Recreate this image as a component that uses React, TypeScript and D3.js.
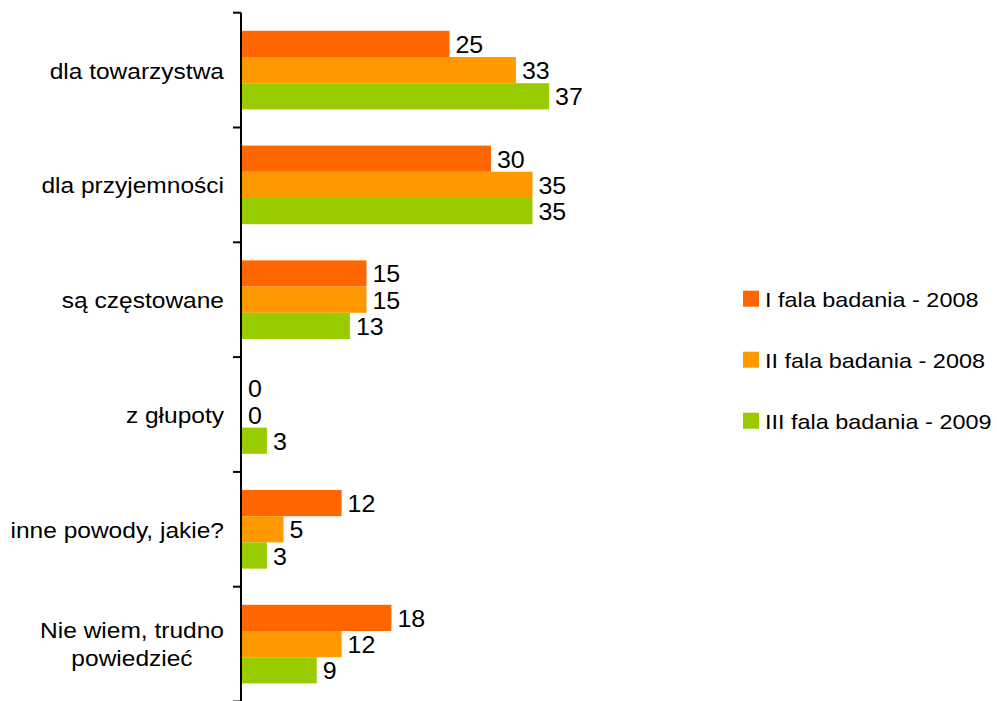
import React from "react";
import * as d3 from "d3";

const categories: string[][] = [
  ["dla towarzystwa"],
  ["dla przyjemności"],
  ["są częstowane"],
  ["z głupoty"],
  ["inne powody, jakie?"],
  ["Nie wiem, trudno", "powiedzieć"],
];
const seriesNames = ["I fala badania - 2008", "II fala badania - 2008", "III fala badania - 2009"];
const seriesColors = ["#FF6600", "#FF9900", "#99CC00"];
const wave1 = [25, 30, 15, 0, 12, 18];
const wave2 = [33, 35, 15, 0, 5, 12];
const wave3 = [37, 35, 13, 3, 3, 9];
const seriesValues = [wave1, wave2, wave3];

const W = 997;
const H = 701;
const FONT = "'Liberation Sans', Arial, Helvetica, sans-serif";
const SX = 1.115;

export default function App() {
  const catKeys = categories.map((c) => c.join(" "));
  const y = d3.scaleBand<string>().domain(catKeys).range([12.7, 701.5]).paddingInner(0.315).paddingOuter(0.1575);
  const yInner = d3.scaleBand<number>().domain([0, 1, 2]).range([0, y.bandwidth()]);
  const x = d3.scaleLinear().domain([0, 40]).range([242, 242 + 332]);
  const step = y.step();
  const tickYs = d3.range(categories.length + 1).map((i) => 12.7 + i * step);

  const legendY = d3.scalePoint<number>().domain([0, 1, 2]).range([298.7, 420.7]);

  return (
    <svg width={W} height={H} style={{ position: "absolute", left: 0, top: 0, background: "#fff" }} fontFamily={FONT}>
      <rect x={0} y={0} width={W} height={H} fill="#fff" />
      {/* bars */}
      {catKeys.map((k, ci) => (
        <g key={k}>
          {seriesValues.map((vals, si) => {
            const by = (y(k) as number) + (yInner(si) as number);
            const bh = yInner.bandwidth();
            const v = vals[ci];
            return (
              <g key={si}>
                {v > 0 && <rect x={x(0)} y={by} width={x(v) - x(0)} height={bh} fill={seriesColors[si]} />}
                <g transform={`translate(${x(v) + 6},${by + bh / 2 + 9}) scale(1.04,1)`}>
                  <text fontSize={24} fill="#000">
                    {v}
                  </text>
                </g>
              </g>
            );
          })}
        </g>
      ))}
      {/* axis */}
      <line x1={241} x2={241} y1={tickYs[0]} y2={H} stroke="#000" strokeWidth={2} />
      {tickYs.map((t, i) => (
        <line key={i} x1={233} x2={241} y1={t} y2={t} stroke="#000" strokeWidth={2} />
      ))}
      {/* category labels */}
      {categories.map((lines, ci) => {
        const cy = (y(catKeys[ci]) as number) + y.bandwidth() / 2;
        if (lines.length === 1) {
          return (
            <g key={ci} transform={`translate(224,${cy + 8.5}) scale(${SX},1)`}>
              <text textAnchor="end" fontSize={22} fill="#000">
                {lines[0]}
              </text>
            </g>
          );
        }
        return (
          <g key={ci}>
            {lines.map((ln, li) => (
              <g key={li} transform={`translate(132,${cy + 7.5 + (li - (lines.length - 1) / 2) * 28}) scale(${SX},1)`}>
                <text textAnchor="middle" fontSize={22} fill="#000">
                  {ln}
                </text>
              </g>
            ))}
          </g>
        );
      })}
      {/* legend */}
      {seriesNames.map((n, si) => {
        const ly = legendY(si) as number;
        return (
          <g key={n}>
            <rect x={743} y={ly - 8} width={16} height={16} fill={seriesColors[si]} />
            <g transform={`translate(765,${ly + 8.6}) scale(${SX},1)`}>
              <text fontSize={21} fill="#000">
                {n}
              </text>
            </g>
          </g>
        );
      })}
    </svg>
  );
}
